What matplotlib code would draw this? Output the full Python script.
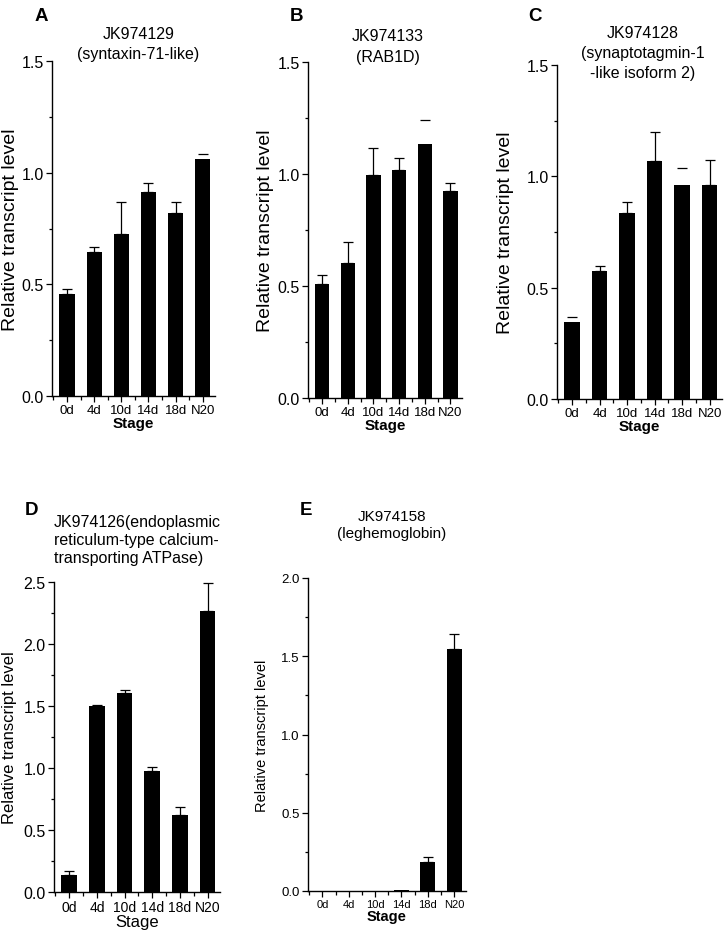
import numpy as np
import matplotlib
matplotlib.use("Agg")
import matplotlib.pyplot as plt
from matplotlib.ticker import MultipleLocator

plt.rcParams['font.family'] = ['Liberation Sans', 'DejaVu Sans']

stages = ["0d", "4d", "10d", "14d", "18d", "N20"]

# mean values and upper error
a_vals = [0.457, 0.643, 0.724, 0.912, 0.818, 1.062]
a_err = [0.023, 0.026, 0.143, 0.041, 0.049, 0.022]
a_caponly = [False, False, False, False, False, True]

b_vals = [0.508, 0.603, 0.997, 1.017, 1.134, 0.924]
b_err = [0.040, 0.093, 0.120, 0.054, 0.108, 0.035]
b_caponly = [False, False, False, False, True, False]

c_vals = [0.346, 0.576, 0.835, 1.070, 0.960, 0.963]
c_err = [0.024, 0.020, 0.048, 0.128, 0.076, 0.112]
c_caponly = [True, False, False, False, True, False]

d_vals = [0.139, 1.502, 1.601, 0.974, 0.617, 2.264]
d_err = [0.027, 0.006, 0.025, 0.037, 0.067, 0.231]
d_caponly = [False] * 6

e_vals = [0.0, 0.0, 0.0, 0.005, 0.185, 1.549]
e_err = [0.0, 0.0, 0.0, 0.0, 0.032, 0.092]
e_caponly = [False] * 6

W, H = 724, 937
fig = plt.figure(figsize=(W / 100, H / 100), dpi=100)


def box(x0, x1, y0, y1):
    return [x0 / W, 1 - y1 / H, (x1 - x0) / W, (y1 - y0) / H]


top_fs = dict(yt=11.5, xt=9.5, yl=14, xl=11, ti=11.5)
panels = [
    dict(letter="A", rect=box(52, 215, 62, 397), vals=a_vals, err=a_err, caponly=a_caponly,
         ymax=1.5, title="JK974129\n(syntaxin-71-like)", tx=0.53, ty=1.105, ha="center",
         letpos=(35, 21), ylx=-0.205, fs=top_fs, xlbold=True, ls=1.45),
    dict(letter="B", rect=box(308, 462, 63, 399), vals=b_vals, err=b_err, caponly=b_caponly,
         ymax=1.5, title="JK974133\n(RAB1D)", tx=0.52, ty=1.10, ha="center",
         letpos=(290, 21), ylx=-0.22, fs=top_fs, xlbold=True, ls=1.45),
    dict(letter="C", rect=box(557, 722, 66, 400), vals=c_vals, err=c_err, caponly=c_caponly,
         ymax=1.5, title="JK974128\n(synaptotagmin-1\n-like isoform 2)", tx=0.52, ty=1.12, ha="center",
         letpos=(528, 21), ylx=-0.26, fs=top_fs, xlbold=True, ls=1.4),
    dict(letter="D", rect=box(54, 220, 583, 893), vals=d_vals, err=d_err, caponly=d_caponly,
         ymax=2.5, title="JK974126(endoplasmic\nreticulum-type calcium-\ntransporting ATPase)",
         tx=0.0, ty=1.22, ha="left",
         letpos=(25, 515), ylx=-0.223, fs=dict(yt=11.5, xt=10, yl=12, xl=12, ti=11.5),
         xlbold=False, ls=1.25),
    dict(letter="E", rect=box(308, 466, 579, 892), vals=e_vals, err=e_err, caponly=e_caponly,
         ymax=2.0, title="JK974158\n(leghemoglobin)", tx=0.53, ty=1.22, ha="center",
         letpos=(300, 515), ylx=-0.245, fs=dict(yt=9.5, xt=8, yl=10.5, xl=10.5, ti=11),
         xlbold=True, ls=1.25),
]

for p in panels:
    ax = fig.add_axes(p["rect"])
    x = np.arange(len(stages))
    vals = np.array(p["vals"])
    err = np.array(p["err"])
    cap = np.array(p["caponly"])

    ax.bar(x, vals, width=0.56, color="black", zorder=2)
    lines = (~cap) & (err > 0)
    ax.errorbar(x[lines], vals[lines], yerr=[np.zeros(lines.sum()), err[lines]],
                fmt="none", ecolor="black", elinewidth=0.9, capsize=3.5, capthick=0.9, zorder=3)
    if cap.any():
        ax.plot(x[cap], (vals + err)[cap], linestyle="none", marker="_", ms=7,
                mew=0.9, color="black", zorder=3)

    ax.set_xlim(-0.55, 5.45)
    ax.set_ylim(0, p["ymax"])
    ax.set_xticks(x)
    ax.set_xticklabels(stages, fontsize=p["fs"]["xt"])
    ax.xaxis.set_minor_locator(MultipleLocator(0.5))
    ax.yaxis.set_major_locator(MultipleLocator(0.5))
    ax.yaxis.set_minor_locator(MultipleLocator(0.25))
    ax.tick_params(axis="y", labelsize=p["fs"]["yt"], length=4, width=0.9, pad=2)
    ax.tick_params(axis="y", which="minor", length=2.5, width=0.9)
    ax.tick_params(axis="x", length=4, width=0.9, pad=2)
    ax.tick_params(axis="x", which="minor", length=3, width=0.9)
    for s in ("top", "right"):
        ax.spines[s].set_visible(False)
    for s in ("left", "bottom"):
        ax.spines[s].set_linewidth(1.0)

    ax.set_ylabel("Relative transcript level", fontsize=p["fs"]["yl"])
    ax.yaxis.set_label_coords(p["ylx"], 0.5)
    ax.set_xlabel("Stage", fontsize=p["fs"]["xl"],
                  fontweight="bold" if p["xlbold"] else "normal", labelpad=0)

    ax.text(p["tx"], p["ty"], p["title"], transform=ax.transAxes, ha=p["ha"], va="top",
            multialignment=p["ha"], fontsize=p["fs"]["ti"], linespacing=p["ls"])
    fig.text(p["letpos"][0] / W, 1 - p["letpos"][1] / H, p["letter"],
             fontsize=13.5, fontweight="bold", ha="left", va="baseline")

fig.savefig("out.png", dpi=100)
